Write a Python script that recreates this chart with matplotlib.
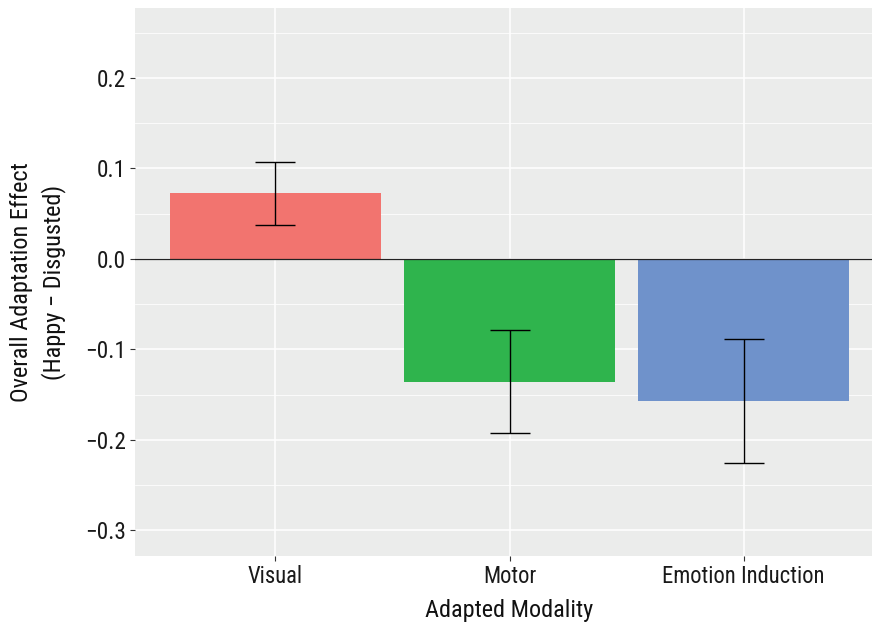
import matplotlib
matplotlib.use("Agg")
import matplotlib.pyplot as plt
from matplotlib.ticker import MultipleLocator, FixedLocator
import numpy as np

categories = ["Visual", "Motor", "Emotion Induction"]
means = [0.073, -0.136, -0.157]
err_low = [0.037, -0.192, -0.225]
err_high = [0.107, -0.079, -0.089]
colors = ["#F2746F", "#2FB44D", "#6F92CB"]
yticks = [-0.3, -0.2, -0.1, 0.0, 0.1, 0.2]
ytick_labels = ["\u22120.3", "\u22120.2", "\u22120.1", "0.0", "0.1", "0.2"]

plt.rcParams['font.family'] = ['Roboto Condensed', 'Archivo Narrow', 'DejaVu Sans']

W, H = 872, 626
fig = plt.figure(figsize=(W / 100, H / 100), dpi=100)
left, right, top, bottom = 135, 884, 8, 556
ax = fig.add_axes([left / W, 1 - bottom / H, (right - left) / W, (bottom - top) / H])
ax.set_facecolor("#EBECEB")

x = np.arange(1, len(categories) + 1)
ax.set_xlim(0.4, 3.6)
ax.set_ylim(-0.3283, 0.2773)

# grid
ax.yaxis.set_major_locator(FixedLocator(yticks))
ax.yaxis.set_minor_locator(MultipleLocator(0.05))
ax.grid(which="major", axis="y", color="white", linewidth=1.1, zorder=0)
ax.grid(which="minor", axis="y", color="white", linewidth=0.55, zorder=0)
ax.grid(which="major", axis="x", color="white", linewidth=1.1, zorder=0)
ax.set_axisbelow(True)

ax.bar(x, means, width=0.9, color=colors, zorder=2)
ax.axhline(0, color="#222222", linewidth=0.9, zorder=3)
yerr = np.array([[m - lo for m, lo in zip(means, err_low)],
                 [hi - m for m, hi in zip(means, err_high)]])
ax.errorbar(x, means, yerr=yerr, fmt="none", ecolor="black", elinewidth=1.0,
            capsize=14.5, capthick=1.0, zorder=4)

ax.set_xticks(x)
ax.set_xticklabels(categories)
ax.set_yticklabels(ytick_labels)
ax.tick_params(axis="both", which="major", length=3.5, width=0.8, color="#333333",
               labelsize=16.8, labelcolor="#1a1a1a", pad=3)
ax.tick_params(axis="x", which="major", labelsize=16.3)
ax.tick_params(axis="y", which="minor", length=0)
for s in ax.spines.values():
    s.set_visible(False)

ax.set_xlabel("Adapted Modality", fontsize=17.5, color="#111111", labelpad=8)
ax.set_ylabel("Overall Adaptation Effect\n(Happy \u2212 Disgusted)", fontsize=17.5,
              color="#111111", labelpad=14, linespacing=1.4)

fig.savefig("out.png", dpi=100)
